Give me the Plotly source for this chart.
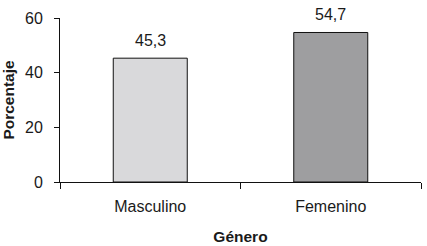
import plotly.graph_objects as go

categories = ["Masculino", "Femenino"]
values = [45.3, 54.7]
colors = ["#d9d9db", "#9e9ea0"]
y_ticks = [0, 20, 40, 60]

FONT = "Liberation Sans, Arial, sans-serif"
TXT = "#1a1a1a"

fig = go.Figure()
fig.add_trace(go.Bar(
    x=categories, y=values,
    marker=dict(color=colors, line=dict(color="#111111", width=1)),
    width=0.41,
    cliponaxis=False,
))

for c, v in zip(categories, values):
    fig.add_annotation(
        x=c, y=v, text=f"{v:.1f}".replace(".", ","),
        showarrow=False, yanchor="bottom", yshift=7,
        font=dict(family=FONT, size=16, color=TXT),
    )

fig.update_layout(
    width=427, height=246,
    margin=dict(l=60, r=6, t=18, b=64),
    paper_bgcolor="white", plot_bgcolor="white",
    separators=",.",
    showlegend=False,
    font=dict(family=FONT, size=16, color=TXT),
)
fig.update_xaxes(
    type="category", tickson="boundaries", automargin=False,
    showline=True, linecolor="#111111", linewidth=1,
    ticks="outside", ticklen=6, tickcolor="#111111", tickwidth=1,
    showgrid=False, zeroline=False,
    ticklabelstandoff=10,
    tickfont=dict(family=FONT, size=16, color=TXT),
    title=dict(text="<b>Género</b>", font=dict(family=FONT, size=15.5, color=TXT), standoff=16),
)
fig.update_yaxes(
    range=[0, 60], tickvals=y_ticks, automargin=False,
    showline=True, linecolor="#111111", linewidth=1,
    ticks="outside", ticklen=5, tickcolor="#111111", tickwidth=1,
    showgrid=False, zeroline=False,
    ticklabelstandoff=8,
    tickfont=dict(family=FONT, size=16, color=TXT),
    title=dict(text="<b>Porcentaje</b>", font=dict(family=FONT, size=15.5, color=TXT), standoff=8),
)

fig.write_html("out.html", config={"displayModeBar": False},
               post_script="document.body.style.margin='0';")
